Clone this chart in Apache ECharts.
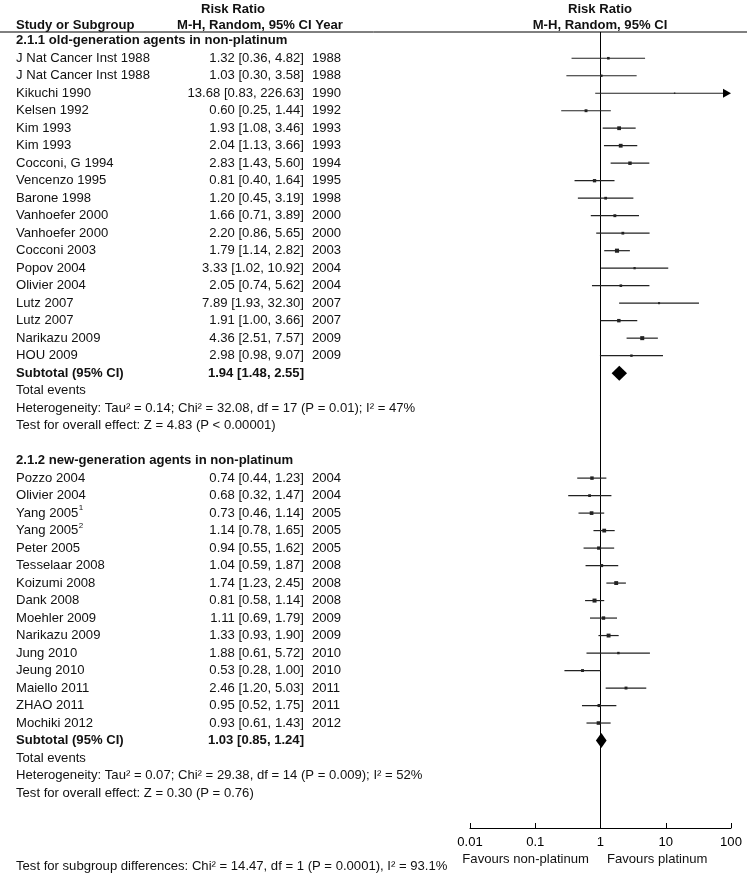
<!DOCTYPE html>
<html><head><meta charset="utf-8">
<script src="https://cdn.jsdelivr.net/npm/echarts@6/dist/echarts.min.js"></script>
<style>html,body{margin:0;padding:0;background:#fff}#c{width:747px;height:877px}</style>
</head><body><div id="c"></div>
<script>
// ---------- data ----------
const group1Title = '2.1.1 old-generation agents in non-platinum';
const group1Names = ['J Nat Cancer Inst 1988','J Nat Cancer Inst 1988','Kikuchi 1990','Kelsen 1992','Kim 1993','Kim 1993','Cocconi, G 1994','Vencenzo 1995','Barone 1998','Vanhoefer 2000','Vanhoefer 2000','Cocconi 2003','Popov 2004','Olivier 2004','Lutz 2007','Lutz 2007','Narikazu 2009','HOU 2009'];
const group1Sup = ['','','','','','','','','','','','','','','','','',''];
const group1RR = [1.32,1.03,13.68,0.60,1.93,2.04,2.83,0.81,1.20,1.66,2.20,1.79,3.33,2.05,7.89,1.91,4.36,2.98];
const group1Lo = [0.36,0.30,0.83,0.25,1.08,1.13,1.43,0.40,0.45,0.71,0.86,1.14,1.02,0.74,1.93,1.00,2.51,0.98];
const group1Hi = [4.82,3.58,226.63,1.44,3.46,3.66,5.60,1.64,3.19,3.89,5.65,2.82,10.92,5.62,32.30,3.66,7.57,9.07];
const group1Years = [1988,1988,1990,1992,1993,1993,1994,1995,1998,2000,2000,2003,2004,2004,2007,2007,2009,2009];
const group1Weights = [4.0,3.5,1.2,5.0,8.5,8.5,7.0,6.5,4.5,5.0,4.5,10.0,3.0,4.0,2.5,7.0,9.5,3.5];
const group1Subtotal = [1.94,1.48,2.55];
const group1Het = 'Heterogeneity: Tau² = 0.14; Chi² = 32.08, df = 17 (P = 0.01); I² = 47%';
const group1Test = 'Test for overall effect: Z = 4.83 (P < 0.00001)';

const group2Title = '2.1.2 new-generation agents in non-platinum';
const group2Names = ['Pozzo 2004','Olivier 2004','Yang 2005','Yang 2005','Peter 2005','Tesselaar 2008','Koizumi 2008','Dank 2008','Moehler 2009','Narikazu 2009','Jung 2010','Jeung 2010','Maiello 2011','ZHAO 2011','Mochiki 2012'];
const group2Sup = ['','','1','2','','','','','','','','','','',''];
const group2RR = [0.74,0.68,0.73,1.14,0.94,1.04,1.74,0.81,1.11,1.33,1.88,0.53,2.46,0.95,0.93];
const group2Lo = [0.44,0.32,0.46,0.78,0.55,0.59,1.23,0.58,0.69,0.93,0.61,0.28,1.20,0.52,0.61];
const group2Hi = [1.23,1.47,1.14,1.65,1.62,1.87,2.45,1.14,1.79,1.90,5.72,1.00,5.03,1.75,1.43];
const group2Years = [2004,2004,2005,2005,2005,2008,2008,2008,2009,2009,2010,2010,2011,2011,2012];
const group2Weights = [7.0,4.5,8.0,8.5,6.5,5.5,9.0,9.5,7.0,9.0,3.5,5.0,5.0,5.5,7.5];
const group2Subtotal = [1.03,0.85,1.24];
const group2Het = 'Heterogeneity: Tau² = 0.07; Chi² = 29.38, df = 14 (P = 0.009); I² = 52%';
const group2Test = 'Test for overall effect: Z = 0.30 (P = 0.76)';

const tickLabels = ['0.01','0.1','1','10','100'];
const overallTest = 'Test for subgroup differences: Chi² = 14.47, df = 1 (P = 0.0001), I² = 93.1%';

// ---------- rows ----------
const rows = [];
function addGroup(title, names, sup, rr, lo, hi, yrs, w, sub, het, test) {
  rows.push({kind:'header', text:title});
  names.forEach((n,i)=>rows.push({kind:'study', name:n, sup:sup[i], rr:rr[i], lo:lo[i], hi:hi[i], year:String(yrs[i]), w:w[i]}));
  rows.push({kind:'subtotal', rr:sub[0], lo:sub[1], hi:sub[2]});
  rows.push({kind:'text', text:'Total events'});
  rows.push({kind:'text', text:het});
  rows.push({kind:'text', text:test});
}
addGroup(group1Title, group1Names, group1Sup, group1RR, group1Lo, group1Hi, group1Years, group1Weights, group1Subtotal, group1Het, group1Test);
rows.push({kind:'blank'});
addGroup(group2Title, group2Names, group2Sup, group2RR, group2Lo, group2Hi, group2Years, group2Weights, group2Subtotal, group2Het, group2Test);

// ---------- layout ----------
const FS = 13.1;
const FAMILY = '"Liberation Sans", Arial, sans-serif';
const COL_NAME = 16, COL_VAL = 304, COL_YEAR = 312;
const INK = '#111';
const font = (b, s) => (b ? 'bold ' : '') + (s || FS) + 'px ' + FAMILY;
const measure = (() => { const c = document.createElement('canvas').getContext('2d'); return (t, f) => { c.font = f; return c.measureText(t).width; }; })();
const fmt = (r) => r.rr.toFixed(2) + ' [' + r.lo.toFixed(2) + ', ' + r.hi.toFixed(2) + ']';

function txt(text, x, y, f, align) {
  return {type:'text', style:{text, x, y, font:f, fill:INK, align:align||'left', verticalAlign:'middle', textAlign:align||'left', textVerticalAlign:'middle'}};
}

function renderItem(params, api) {
  const i = params.dataIndex;
  const r = rows[i];
  const y = api.coord([1, i])[1];
  const ch = [];
  if (r.kind === 'header') {
    ch.push(txt(r.text, COL_NAME, y, font(true)));
  } else if (r.kind === 'text') {
    ch.push(txt(r.text, COL_NAME, y, font(false)));
  } else if (r.kind === 'study') {
    ch.push(txt(r.name, COL_NAME, y, font(false)));
    if (r.sup) {
      const w = measure(r.name, font(false));
      ch.push(txt(r.sup, COL_NAME + w + 0.5, y - 5, font(false, 8)));
    }
    ch.push(txt(fmt(r), COL_VAL, y, font(false), 'right'));
    ch.push(txt(r.year, COL_YEAR, y, font(false)));
    const xl = api.coord([r.lo, i])[0];
    const capped = r.hi > 100;
    const xh = api.coord([Math.min(r.hi, 100), i])[0];
    const xr = api.coord([r.rr, i])[0];
    ch.push({type:'line', shape:{x1:xl, y1:y, x2:capped ? xh - 6 : xh, y2:y}, style:{stroke:'#222', lineWidth:1.2}});
    if (capped) {
      ch.push({type:'polygon', shape:{points:[[xh-8, y-4.5],[xh, y],[xh-8, y+4.5]]}, style:{fill:'#000'}});
    }
    const s = 1.3 * Math.sqrt(r.w);
    ch.push({type:'rect', shape:{x:xr - s/2, y:y - s/2, width:s, height:s}, style:{fill:'#222'}});
  } else if (r.kind === 'subtotal') {
    ch.push(txt('Subtotal (95% CI)', COL_NAME, y, font(true)));
    ch.push(txt(fmt(r), COL_VAL, y, font(true), 'right'));
    const xl = api.coord([r.lo, i])[0], xh = api.coord([r.hi, i])[0], xr = api.coord([r.rr, i])[0];
    ch.push({type:'polygon', shape:{points:[[xl, y],[xr, y-7.5],[xh, y],[xr, y+7.5]]}, style:{fill:'#000'}});
  }
  return {type:'group', children:ch};
}

const chart = echarts.init(document.getElementById('c'), null, {renderer:'canvas'});
const Y_MIN = -0.5, Y_MAX = 45;
chart.setOption({
  animation:false,
  backgroundColor:'#fff',
  grid:{left:470, right:16, top:32, bottom:49, containLabel:false},
  xAxis:{
    type:'log', logBase:10, min:0.01, max:100, position:'bottom',
    axisLine:{show:true, onZero:false, lineStyle:{color:'#000', width:1}},
    axisTick:{show:true, inside:true, length:5, lineStyle:{color:'#000', width:1}},
    axisLabel:{color:'#000', fontSize:FS, fontFamily:FAMILY, margin:8,
      formatter:(v)=>tickLabels[Math.round(Math.log10(v)) + 2]},
    splitLine:{show:false}
  },
  yAxis:{type:'value', min:Y_MIN, max:Y_MAX, inverse:true, show:false},
  series:[
    {type:'line', data:[[1, Y_MIN],[1, Y_MAX]], symbol:'none', lineStyle:{color:'#000', width:1}, silent:true, z:1},
    {type:'custom', renderItem, clip:false, data:rows.map((r,i)=>[1, i]), encode:{x:0, y:1}, silent:true, z:2}
  ],
  graphic:[
    {type:'line', shape:{x1:0, y1:32, x2:747, y2:32}, style:{stroke:'#000', lineWidth:1}},
    {type:'text', style:{text:'Risk Ratio', x:233, y:9, font:font(true), fill:INK, textAlign:'center', textVerticalAlign:'middle'}},
    {type:'text', style:{text:'Study or Subgroup', x:COL_NAME, y:25, font:font(true), fill:INK, textAlign:'left', textVerticalAlign:'middle'}},
    {type:'text', style:{text:'M-H, Random, 95% CI Year', x:177, y:25, font:font(true), fill:INK, textAlign:'left', textVerticalAlign:'middle'}},
    {type:'text', style:{text:'Risk Ratio', x:600, y:9, font:font(true), fill:INK, textAlign:'center', textVerticalAlign:'middle'}},
    {type:'text', style:{text:'M-H, Random, 95% CI', x:600, y:25, font:font(true), fill:INK, textAlign:'center', textVerticalAlign:'middle'}},
    {type:'text', style:{text:'Favours non-platinum', x:589, y:859, font:font(false), fill:INK, textAlign:'right', textVerticalAlign:'middle'}},
    {type:'text', style:{text:'Favours platinum', x:607, y:859, font:font(false), fill:INK, textAlign:'left', textVerticalAlign:'middle'}},
    {type:'text', style:{text:overallTest, x:COL_NAME, y:866, font:font(false), fill:INK, textAlign:'left', textVerticalAlign:'middle'}}
  ]
});
</script>
</body></html>
